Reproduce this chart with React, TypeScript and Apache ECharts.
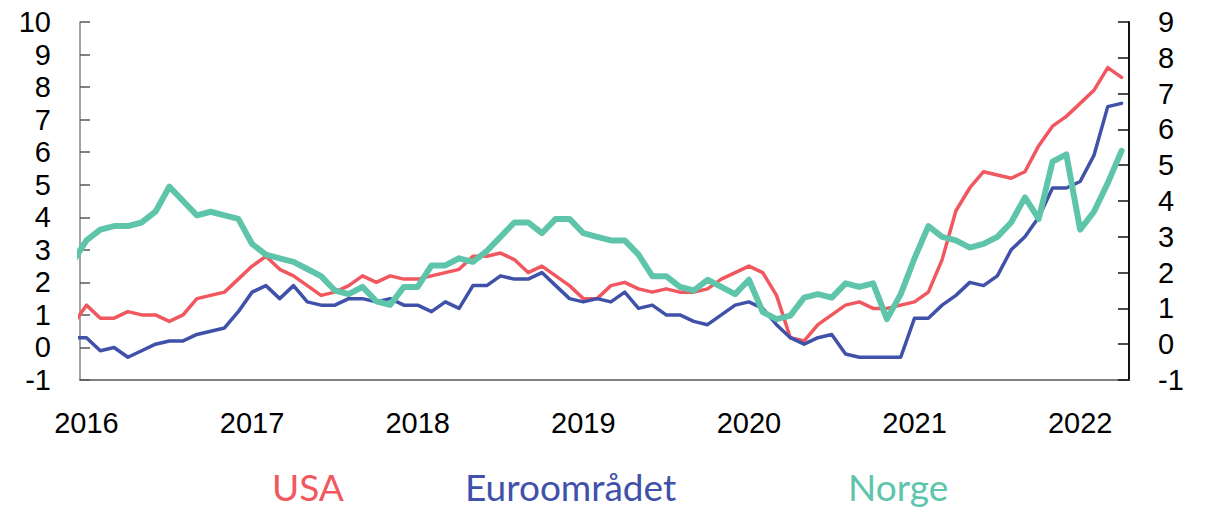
import React, { useEffect, useRef } from "react";
import * as echarts from "echarts";

// Monthly observations, Dec 2015 .. Apr 2022 (first point lies just left of the plot and is clipped)
const firstYear = 2015;
const firstMonth = 12;

const yearLabels = ["2016", "2017", "2018", "2019", "2020", "2021", "2022"];

const usa = [
  0.7,
  1.3, 0.9, 0.9, 1.1, 1.0, 1.0, 0.8, 1.0, 1.5, 1.6, 1.7, 2.1,
  2.5, 2.8, 2.4, 2.2, 1.9, 1.6, 1.7, 1.9, 2.2, 2.0, 2.2, 2.1,
  2.1, 2.2, 2.3, 2.4, 2.8, 2.8, 2.9, 2.7, 2.3, 2.5, 2.2, 1.9,
  1.5, 1.5, 1.9, 2.0, 1.8, 1.7, 1.8, 1.7, 1.7, 1.8, 2.1, 2.3,
  2.5, 2.3, 1.6, 0.3, 0.2, 0.7, 1.0, 1.3, 1.4, 1.2, 1.2, 1.3,
  1.4, 1.7, 2.7, 4.2, 4.9, 5.4, 5.3, 5.2, 5.4, 6.2, 6.8, 7.1,
  7.5, 7.9, 8.6, 8.3,
];

const euro = [
  0.3,
  0.3, -0.1, 0.0, -0.3, -0.1, 0.1, 0.2, 0.2, 0.4, 0.5, 0.6, 1.1,
  1.7, 1.9, 1.5, 1.9, 1.4, 1.3, 1.3, 1.5, 1.5, 1.4, 1.5, 1.3,
  1.3, 1.1, 1.4, 1.2, 1.9, 1.9, 2.2, 2.1, 2.1, 2.3, 1.9, 1.5,
  1.4, 1.5, 1.4, 1.7, 1.2, 1.3, 1.0, 1.0, 0.8, 0.7, 1.0, 1.3,
  1.4, 1.2, 0.7, 0.3, 0.1, 0.3, 0.4, -0.2, -0.3, -0.3, -0.3, -0.3,
  0.9, 0.9, 1.3, 1.6, 2.0, 1.9, 2.2, 3.0, 3.4, 4.0, 4.9, 4.9,
  5.1, 5.9, 7.4, 7.5,
];

// Norge is read against the right-hand axis
const norge = [
  2.3,
  2.9, 3.2, 3.3, 3.3, 3.4, 3.7, 4.4, 4.0, 3.6, 3.7, 3.6, 3.5,
  2.8, 2.5, 2.4, 2.3, 2.1, 1.9, 1.5, 1.4, 1.6, 1.2, 1.1, 1.6,
  1.6, 2.2, 2.2, 2.4, 2.3, 2.6, 3.0, 3.4, 3.4, 3.1, 3.5, 3.5,
  3.1, 3.0, 2.9, 2.9, 2.5, 1.9, 1.9, 1.6, 1.5, 1.8, 1.6, 1.4,
  1.8, 0.9, 0.7, 0.8, 1.3, 1.4, 1.3, 1.7, 1.6, 1.7, 0.7, 1.4,
  2.4, 3.3, 3.0, 2.9, 2.7, 2.8, 3.0, 3.4, 4.1, 3.5, 5.1, 5.3,
  3.2, 3.7, 4.5, 5.4,
];

const seriesNames = ["USA", "Euroområdet", "Norge"];
const seriesColors = ["#f1575f", "#3f51a9", "#5ec5ab"];

// months counted from January 2016
const monthOffsets = usa.map((_, i) => (firstYear - 2016) * 12 + (firstMonth - 1) + i);
const yearOffsets = yearLabels.map((y) => (Number(y) - 2016) * 12);

const axisFont = "'Liberation Sans', Arial, sans-serif";
const legendFont = "Lato, 'Open Sans', sans-serif";

export default function App() {
  const ref = useRef<HTMLDivElement>(null);

  useEffect(() => {
    if (!ref.current) return;
    const chart = echarts.init(ref.current, undefined, { renderer: "svg" });

    const pairs = (vals: number[]) => vals.map((v, i) => [monthOffsets[i], v]);
    const widths = [3.5, 3.5, 6];
    const dataSets = [usa, euro, norge];

    const legendLefts = [267, 460, 843];

    chart.setOption({
      animation: false,
      backgroundColor: "#ffffff",
      grid: { left: 80, right: 78, top: 22, bottom: 130, containLabel: false },
      legend: seriesNames.map((name, i) => ({
        data: [{ name, textStyle: { color: seriesColors[i] } }],
        left: legendLefts[i],
        top: 468,
        padding: 0,
        itemWidth: 0,
        itemHeight: 0,
        icon: "rect",
        selectedMode: false,
        textStyle: {
          fontSize: 37,
          lineHeight: 36,
          fontFamily: legendFont,
          fontWeight: "normal",
          color: seriesColors[i],
        },
      })),
      xAxis: {
        type: "value",
        min: -0.47,
        max: 75.54,
        axisLine: { show: true, onZero: false, lineStyle: { color: "#595959", width: 1.5 } },
        axisTick: { show: false },
        splitLine: { show: false },
        axisLabel: {
          customValues: yearOffsets,
          formatter: (v: number) => String(2016 + Math.round(v / 12)),
          margin: 28,
          fontSize: 29,
          lineHeight: 29,
          fontFamily: axisFont,
          color: "#000",
        },
      },
      yAxis: [
        {
          type: "value",
          min: -1,
          max: 10,
          interval: 1,
          position: "left",
          axisLine: { show: true, onZero: false, lineStyle: { color: "#858585", width: 1.5 } },
          axisTick: { show: true, inside: true, length: 10, lineStyle: { color: "#595959", width: 1.5 } },
          splitLine: { show: false },
          axisLabel: { margin: 29, fontSize: 29, lineHeight: 26, fontFamily: axisFont, color: "#000" },
        },
        {
          type: "value",
          min: -1,
          max: 9,
          interval: 1,
          position: "right",
          axisLine: { show: true, onZero: false, lineStyle: { color: "#111", width: 2 } },
          axisTick: { show: true, inside: true, length: 11, lineStyle: { color: "#111", width: 1.5 } },
          splitLine: { show: false },
          axisLabel: { margin: 29, fontSize: 29, lineHeight: 26, fontFamily: axisFont, color: "#000" },
        },
      ],
      series: seriesNames.map((name, i) => ({
        type: "line",
        name,
        yAxisIndex: i === 2 ? 1 : 0,
        data: pairs(dataSets[i]),
        showSymbol: false,
        symbol: "none",
        clip: true,
        z: 2 + i,
        itemStyle: { color: seriesColors[i] },
        lineStyle: { color: seriesColors[i], width: widths[i], join: "round", cap: "round" },
        emphasis: { disabled: true },
      })),
    });

    return () => chart.dispose();
  }, []);

  return (
    <div
      ref={ref}
      style={{ position: "absolute", left: 0, top: 0, width: 1207, height: 510 }}
    />
  );
}
